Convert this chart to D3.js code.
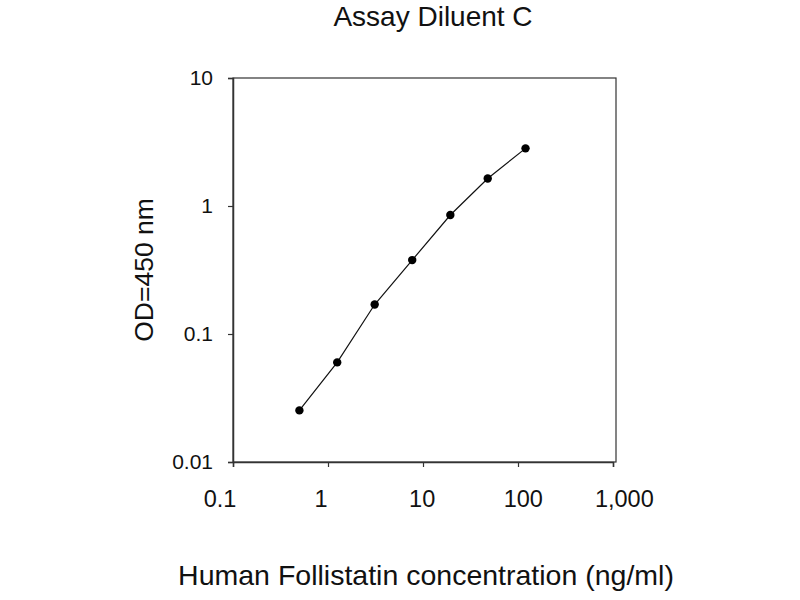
<!DOCTYPE html>
<html>
<head>
<meta charset="utf-8">
<script src="https://cdn.jsdelivr.net/npm/d3@7"></script>
<style>
  body { margin: 0; background: #fff; }
  text { font-family: "Liberation Sans", Arial, sans-serif; fill: #111; }
</style>
</head>
<body>
<svg id="chart" width="800" height="600"></svg>
<script>
// Standard curve data
const concentration = [0.5, 1.25, 3.1, 7.7, 19.4, 48, 120]; // ng/ml
const od450 = [0.0253, 0.060, 0.170, 0.378, 0.85, 1.64, 2.82];
const xTicks = [0.1, 1, 10, 100, 1000];
const yTicks = [0.01, 0.1, 1, 10];

const svg = d3.select("#chart");

const margin = { top: 78, right: 184, bottom: 138, left: 233 },
      width = 800 - margin.left - margin.right,
      height = 600 - margin.top - margin.bottom;

const chart = svg.append("g")
    .attr("transform", `translate(${margin.left}, ${margin.top})`);

const xScale = d3.scaleLog().domain([0.1, 1000]).range([0, width - 3]);
const yScale = d3.scaleLog().domain([0.01, 10]).range([height, 0]);

// Box around plot
chart.append("rect")
    .attr("width", width)
    .attr("height", height)
    .attr("fill", "none")
    .attr("stroke", "#333")
    .attr("stroke-width", 1.2);

// Axes
const xAxis = chart.append("g")
    .attr("transform", `translate(0, ${height})`)
    .call(d3.axisBottom(xScale)
        .tickValues(xTicks)
        .tickSize(5)
        .tickFormat(d3.format(",")));

const yAxis = chart.append("g")
    .call(d3.axisLeft(yScale)
        .tickValues(yTicks)
        .tickSize(5)
        .tickFormat(d => String(d)));

[xAxis, yAxis].forEach(ax => {
    ax.select(".domain").attr("stroke", "#333").attr("stroke-width", 1.5);
    ax.selectAll(".tick line").attr("stroke", "#333").attr("stroke-width", 1.2);
    ax.selectAll("text").attr("fill", "#111");
});
// x labels sit slightly spread out relative to the ticks (as in the original)
xAxis.selectAll("text")
    .style("font-size", "23.5px")
    .attr("y", 45)
    .attr("dy", null)
    .attr("dx", d => -13.5 + 0.064 * xScale(d));
yAxis.selectAll("text")
    .style("font-size", "21px")
    .attr("x", -20);

// Line and points
const points = concentration.map((c, i) => [c, od450[i]]);

chart.append("path")
    .datum(points)
    .attr("fill", "none")
    .attr("stroke", "#111")
    .attr("stroke-width", 1.2)
    .attr("d", d3.line().x(d => xScale(d[0])).y(d => yScale(d[1])));

chart.selectAll(".dot")
    .data(points)
    .join("circle")
    .attr("class", "dot")
    .attr("cx", d => xScale(d[0]))
    .attr("cy", d => yScale(d[1]))
    .attr("r", 4.2)
    .attr("fill", "#000");

// Titles
svg.append("text")
    .attr("x", 433)
    .attr("y", 26)
    .attr("text-anchor", "middle")
    .style("font-size", "28px")
    .text("Assay Diluent C");

svg.append("text")
    .attr("x", 426)
    .attr("y", 585)
    .attr("text-anchor", "middle")
    .style("font-size", "28.5px")
    .text("Human Follistatin concentration (ng/ml)");

svg.append("text")
    .attr("transform", "translate(153, 270) rotate(-90)")
    .attr("text-anchor", "middle")
    .style("font-size", "26.5px")
    .text("OD=450 nm");
</script>
</body>
</html>
